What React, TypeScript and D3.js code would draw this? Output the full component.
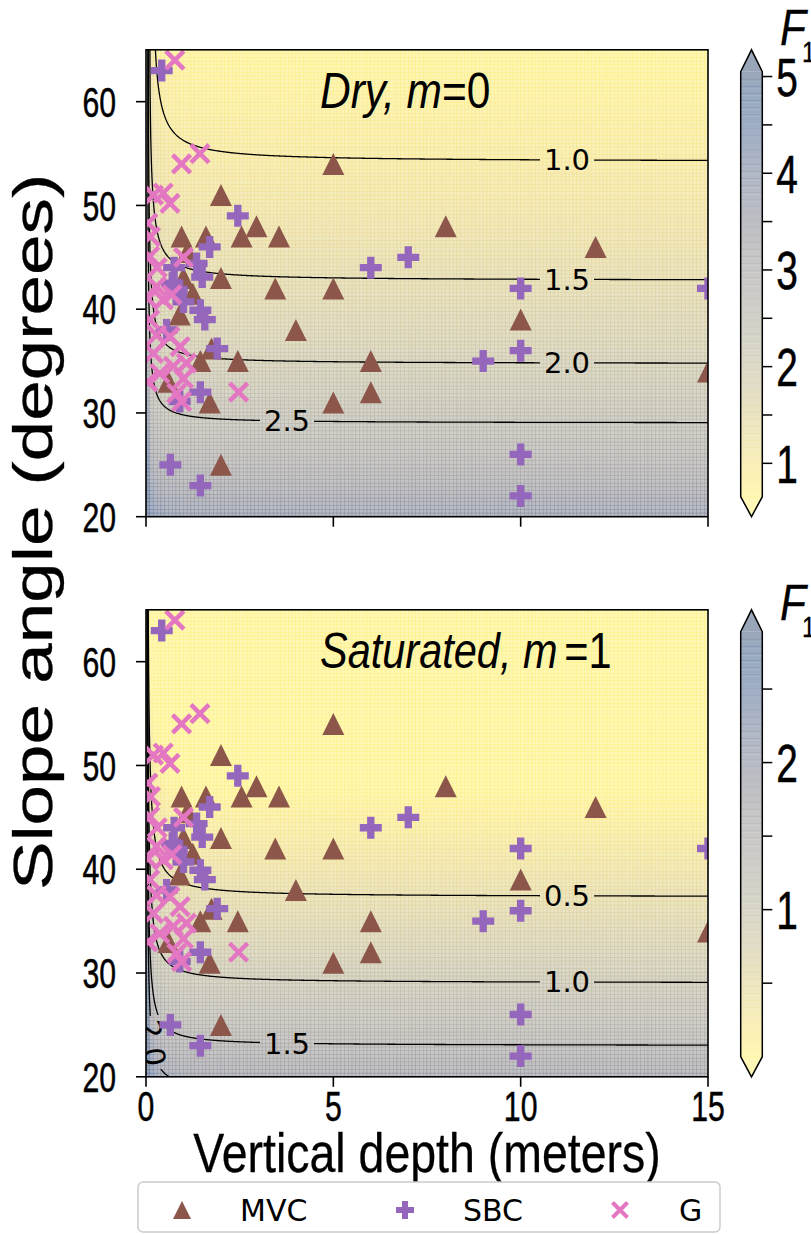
import React, { useMemo } from "react";
import * as d3 from "d3";

// ---------------- data (vertical depth m, slope angle deg) ----------------
const mvcDepth = [5, 8, 12, 2, 0.95, 1.6, 2.55, 2.95, 3.55, 1.1, 2, 1.0, 3.45, 5, 0.9, 1.25, 4, 10, 1.75, 1.45, 2.45, 6, 15, 0.6, 1.7, 5, 6, 2];
const mvcSlope = [54, 48, 46, 51, 47, 47, 47, 48, 47, 45.5, 43, 43, 42, 42, 39.5, 41.5, 38, 39, 36.2, 35, 35, 35, 34, 33, 31, 31, 32, 25];

const sbcDepth = [0.42, 2.45, 1.7, 1.35, 1.5, 0.75, 0.7, 0.82, 1.0, 1.45, 1.57, 0.55, 1.9, 1.45, 0.9, 0.65, 1.45, 6, 7, 10, 15, 10, 9, 10, 10];
const sbcSlope = [63, 49, 46, 44.4, 43.1, 44, 42.5, 41.9, 40.7, 39.9, 39, 38, 36.2, 32, 31.1, 25, 23, 44, 45, 42, 42, 36, 35, 26, 22];

const gDepth = [0.77, 0.95, 1.44, 0.2, 0.46, 0.64, 0.05, 0.1, 1.0, 0.3, 0.28, 0.46, 0.69, 0.05, 0.28, 0.64, 0.91, 0.2, 0.73, 1.08, 0.37, 1.0, 0.82, 0.95, 2.47, 0.1, 0.12, 0.05];
const gSlope = [64, 54, 55, 51, 51.2, 50.2, 48.3, 45.1, 45, 44, 42.2, 40.9, 41.4, 41, 37.5, 37.35, 36.4, 35.75, 34.5, 34.8, 33.8, 33.3, 31.9, 31.1, 32, 39, 47, 33];

const xTicks = [0, 5, 10, 15];
const yTicks = [20, 30, 40, 50, 60];
const dryLevels = [1.0, 1.5, 2.0, 2.5];
const satLevels = [0.5, 1.0, 1.5, 2.0];
const dryCbarMajor = [1, 2, 3, 4, 5];
const dryCbarMinor = [1.5, 2.5, 3.5, 4.5];
const satCbarMajor = [1, 2];
const satCbarMinor = [0.5, 1.5, 2.5];
const legendNames = ["MVC", "SBC", "G"];

// infinite-slope factor-of-safety model parameters (background field)
const TAN_PHI = 1.387;
const COH = 0.034; // c / gamma (m)
const WATER_RATIO = 0.4586; // gamma_w / gamma

function fos(z: number, thDeg: number, m: number) {
  const t = (thDeg * Math.PI) / 180;
  const s = Math.sin(t), c = Math.cos(t);
  return COH / (z * s * c) + TAN_PHI * (c / s - (m * WATER_RATIO) / (s * c));
}

// ---------------- layout ----------------
const W = 811, H = 1235;
const PX0 = 146, PX1 = 708;
const SANS = "'Liberation Sans', Arial, sans-serif";
const DEJAVU = "'DejaVu Sans', sans-serif";
const ALPHA = 0.4;

const C_MVC = "#8c564b", C_SBC = "#9467bd", C_G = "#e377c2";

function blend(c: string, a: number) {
  const r = d3.rgb(c);
  return d3.rgb(255 + (r.r - 255) * a, 255 + (r.g - 255) * a, 255 + (r.b - 255) * a).formatHex();
}
function cmap(v: number, vmin: number, vmax: number, a = ALPHA) {
  const t = Math.max(0, Math.min(1, (v - vmin) / (vmax - vmin)));
  return blend(d3.interpolateCividis(1 - t), a);
}

const triPath = (s: number) => `M0,${-s / 2}L${s / 2},${s / 2}L${-s / 2},${s / 2}Z`;
const plusPath = (s: number) => {
  const u = s / 6;
  const pts = [[-1, -3], [1, -3], [1, -1], [3, -1], [3, 1], [1, 1], [1, 3], [-1, 3], [-1, 1], [-3, 1], [-3, -1], [-1, -1]];
  return "M" + pts.map((p) => `${p[0] * u},${p[1] * u}`).join("L") + "Z";
};
const xPath = (s: number) => `M${-s / 2},${-s / 2}L${s / 2},${s / 2}M${-s / 2},${s / 2}L${s / 2},${-s / 2}`;

// condensed text: Liberation Sans squeezed horizontally
function NText(props: { x: number; y: number; size: number; sx?: number; anchor?: string; italic?: boolean; rotate?: number; dy?: string; bold?: number; children: React.ReactNode }) {
  const { x, y, size, sx = 0.74, anchor = "start", italic = false, rotate = 0, dy, bold = 0.5, children } = props;
  return (
    <text transform={`translate(${x},${y}) rotate(${rotate}) scale(${sx},1)`} textAnchor={anchor} dy={dy}
      fontFamily={SANS} fontSize={size} fontStyle={italic ? "italic" : "normal"} fill="#000"
      stroke="#000" strokeWidth={bold}>{children}</text>
  );
}

type PanelSpec = {
  id: string;
  top: number;
  bottom: number;
  m: number;
  levels: number[];
  vmin: number;
  vmax: number;
  cbTop: number;
  cbBottom: number;
  cbMajor: number[];
  cbMinor: number[];
  labels: { level: number; px?: number; py?: number }[];
  title: [string, string];
  titleSx: number;
  titleGap: number;
  showX: boolean;
  fY: number;
};

const panels: PanelSpec[] = [
  {
    id: "dry", top: 49.8, bottom: 516.7, m: 0, levels: dryLevels, vmin: 0.655, vmax: 5.05,
    cbTop: 71.7, cbBottom: 496.7, cbMajor: dryCbarMajor, cbMinor: dryCbarMinor,
    labels: [{ level: 1.0, px: 567 }, { level: 1.5, px: 567 }, { level: 2.0, px: 567 }, { level: 2.5, px: 287 }],
    title: ["Dry, m", "=0"], titleSx: 0.85, titleGap: 0, showX: false, fY: 45,
  },
  {
    id: "sat", top: 609.8, bottom: 1076.8, m: 1, levels: satLevels, vmin: 0.0, vmax: 2.89,
    cbTop: 631.7, cbBottom: 1056.7, cbMajor: satCbarMajor, cbMinor: satCbarMinor,
    labels: [{ level: 0.5, px: 567 }, { level: 1.0, px: 567 }, { level: 1.5, px: 287 }, { level: 2.0, py: 1043 }],
    title: ["Saturated, m", "=1"], titleSx: 0.83, titleGap: 8, showX: true, fY: 620,
  },
];

function Panel({ p }: { p: PanelSpec }) {
  const x = d3.scaleLinear().domain([0, 15]).range([PX0, PX1]);
  const y = d3.scaleLinear().domain([20, 65]).range([p.bottom, p.top]);

  const mesh = useMemo(() => {
    const NX = 150, NY = 125, dz = 0.1, dth = 0.36;
    const out: JSX.Element[] = [];
    for (let i = 0; i < NX; i++) {
      const z0 = i * dz, z1 = z0 + dz;
      const x0 = x(z0), w = x(z1) - x0;
      for (let j = 0; j < NY; j++) {
        const t0 = 20 + j * dth, t1 = t0 + dth;
        const v = fos((z0 + z1) / 2, (t0 + t1) / 2, p.m);
        const y0 = y(t1), h = y(t0) - y0;
        out.push(
          <rect key={i * 1000 + j} x={x0} y={y0} width={w} height={h}
            fill={cmap(v, p.vmin, p.vmax)} stroke={cmap(v, p.vmin, p.vmax, 0.66)} strokeWidth={0.5} />
        );
      }
    }
    return out;
  }, [p.id]);

  const contourPaths = useMemo(() => {
    const nx = 780, ny = 470, zA = -0.2, dz = 0.02, thA = 66, dth = 0.1;
    const values = new Float64Array(nx * ny);
    for (let j = 0; j < ny; j++) {
      const th = thA - (j + 0.5) * dth;
      for (let i = 0; i < nx; i++) {
        const z = zA + (i + 0.5) * dz;
        values[j * nx + i] = z <= 0 ? 1000 : fos(z, th, p.m);
      }
    }
    const gen = d3.contours().size([nx, ny]).thresholds(p.levels);
    const proj = d3.geoTransform({
      point(px: number, py: number) {
        // @ts-ignore
        this.stream.point(x(zA + px * dz), y(thA - py * dth));
      },
    });
    const path = d3.geoPath(proj as any);
    return gen(Array.from(values)).map((c) => path(c as any) || "");
  }, [p.id]);

  const labelInfo = p.labels.map((l) => {
    if (l.px !== undefined) {
      const z = x.invert(l.px);
      let lo = 20, hi = 65;
      for (let k = 0; k < 60; k++) {
        const mid = (lo + hi) / 2;
        if (fos(z, mid, p.m) > l.level) lo = mid; else hi = mid;
      }
      return { level: l.level, cx: l.px, cy: y((lo + hi) / 2), angle: 0 };
    }
    const th = y.invert(l.py as number);
    let lo = 0.005, hi = 5;
    for (let k = 0; k < 60; k++) {
      const mid = (lo + hi) / 2;
      if (fos(mid, th, p.m) > l.level) lo = mid; else hi = mid;
    }
    const cx = x((lo + hi) / 2), cy = l.py as number;
    const f = (px: number, py: number) => fos(x.invert(px), y.invert(py), p.m);
    const hh = 0.5;
    const gx = (f(cx + hh, cy) - f(cx - hh, cy)) / (2 * hh);
    const gy = (f(cx, cy + hh) - f(cx, cy - hh)) / (2 * hh);
    let ang = (Math.atan2(gx, -gy) * 180) / Math.PI;
    if (ang > 90) ang -= 180;
    if (ang < -90) ang += 180;
    return { level: l.level, cx, cy, angle: ang };
  });

  const LFS = 29;
  const cb = d3.scaleLinear().domain([p.vmin, p.vmax]).range([p.cbBottom, p.cbTop]);
  const CBX0 = 740.7, CBX1 = 762.3;
  const stripes: JSX.Element[] = [];
  const NS = 180;
  for (let k = 0; k < NS; k++) {
    const v0 = p.vmin + ((p.vmax - p.vmin) * k) / NS;
    const v1 = p.vmin + ((p.vmax - p.vmin) * (k + 1)) / NS;
    const c = cmap((v0 + v1) / 2, p.vmin, p.vmax);
    stripes.push(<rect key={k} x={CBX0} y={cb(v1)} width={CBX1 - CBX0} height={cb(v0) - cb(v1) + 0.3} fill={c}
      stroke={k % 3 === 0 ? cmap((v0 + v1) / 2, p.vmin, p.vmax, 0.55) : "none"} strokeWidth={0.4} />);
  }
  const tipTop = p.top, tipBot = p.bottom;
  const cbMid = (CBX0 + CBX1) / 2;
  const outline = `M${CBX0},${p.cbBottom}L${CBX0},${p.cbTop}L${cbMid},${tipTop}L${CBX1},${p.cbTop}L${CBX1},${p.cbBottom}L${cbMid},${tipBot}Z`;

  return (
    <g>
      <defs>
        <clipPath id={`clip-${p.id}`}>
          <rect x={PX0} y={p.top} width={PX1 - PX0} height={p.bottom - p.top} />
        </clipPath>
        <mask id={`mask-${p.id}`} maskUnits="userSpaceOnUse" x={0} y={0} width={W} height={H}>
          <rect x={0} y={0} width={W} height={H} fill="white" />
          {labelInfo.map((l, i) => {
            const tw = LFS * 1.59;
            return (
              <rect key={i} x={-tw / 2 - 4} y={-LFS * 0.45} width={tw + 8} height={LFS * 0.9} fill="black"
                transform={`translate(${l.cx},${l.cy}) rotate(${l.angle})`} />
            );
          })}
        </mask>
      </defs>
      <g clipPath={`url(#clip-${p.id})`}>
        <g>{mesh}</g>
        <g mask={`url(#mask-${p.id})`}>
          {contourPaths.map((d, i) => (
            <path key={i} d={d} fill="none" stroke="#000" strokeWidth={1.3} />
          ))}
        </g>
        {labelInfo.map((l, i) => (
          <text key={i} transform={`translate(${l.cx},${l.cy}) rotate(${l.angle})`} textAnchor="middle" dy="0.36em"
            fontFamily={DEJAVU} fontSize={LFS} fill="#000">{l.level.toFixed(1)}</text>
        ))}
        {mvcDepth.map((d, i) => (
          <path key={"m" + i} d={triPath(22)} transform={`translate(${x(d)},${y(mvcSlope[i])})`} fill={C_MVC} />
        ))}
        {sbcDepth.map((d, i) => (
          <path key={"s" + i} d={plusPath(22)} transform={`translate(${x(d)},${y(sbcSlope[i])})`} fill={C_SBC} />
        ))}
        {gDepth.map((d, i) => (
          <path key={"g" + i} d={xPath(18)} transform={`translate(${x(d)},${y(gSlope[i])})`} fill="none" stroke={C_G} strokeWidth={4.5} />
        ))}
      </g>
      <text transform={`translate(320,${p.top + 58}) scale(${p.titleSx},1)`} fontFamily={SANS} fontSize={50} fill="#000">
        <tspan fontStyle="italic">{p.title[0]}</tspan>
        <tspan dx={p.titleGap}>{p.title[1]}</tspan>
      </text>
      <rect x={PX0} y={p.top} width={PX1 - PX0} height={p.bottom - p.top} fill="none" stroke="#000" strokeWidth={1.6} />
      {yTicks.map((t) => (
        <g key={t}>
          <line x1={PX0 - 10} x2={PX0} y1={y(t)} y2={y(t)} stroke="#000" strokeWidth={1.6} />
          <NText x={116} y={y(t)} size={42} sx={0.72} anchor="end" dy="0.36em">{t}</NText>
        </g>
      ))}
      {xTicks.map((t) => (
        <g key={t}>
          <line x1={x(t)} x2={x(t)} y1={p.bottom} y2={p.bottom + 10} stroke="#000" strokeWidth={1.6} />
          {p.showX && (
            <NText x={x(t)} y={p.bottom + 44} size={42} sx={0.72} anchor="middle">{t}</NText>
          )}
        </g>
      ))}
      {/* colorbar */}
      <path d={`M${CBX0},${p.cbTop}L${cbMid},${tipTop}L${CBX1},${p.cbTop}Z`} fill={cmap(p.vmax + 1, p.vmin, p.vmax)} />
      <path d={`M${CBX0},${p.cbBottom}L${cbMid},${tipBot}L${CBX1},${p.cbBottom}Z`} fill={cmap(p.vmin - 1, p.vmin, p.vmax)} />
      <g>{stripes}</g>
      <path d={outline} fill="none" stroke="#000" strokeWidth={1.5} />
      {p.cbMajor.map((t) => (
        <g key={t}>
          <line x1={CBX1} x2={CBX1 + 10} y1={cb(t)} y2={cb(t)} stroke="#000" strokeWidth={1.5} />
          <NText x={CBX1 + 14} y={cb(t)} size={54} sx={0.72} dy="0.36em">{t}</NText>
        </g>
      ))}
      {p.cbMinor.map((t) => (
        <line key={t} x1={CBX1} x2={CBX1 + 10} y1={cb(t)} y2={cb(t)} stroke="#000" strokeWidth={1.5} />
      ))}
      <NText x={780} y={p.fY} size={50} sx={0.85} italic bold={0.3}>F</NText>
      <NText x={802} y={p.fY + 17} size={30} sx={0.8} bold={0.3}>1</NText>
    </g>
  );
}

export default function App() {
  const legendX = [182, 405, 620];
  const legendTextX = [240, 463, 679];
  return (
    <svg width={W} height={H} viewBox={`0 0 ${W} ${H}`} style={{ position: "absolute", left: 0, top: 0, background: "#fff" }}>
      <rect x={0} y={0} width={W} height={H} fill="#fff" />
      {panels.map((p) => (
        <Panel key={p.id} p={p} />
      ))}
      <NText x={52} y={532} size={56} sx={1.3} rotate={-90} anchor="middle" bold={0.3}>Slope angle (degrees)</NText>
      <NText x={427} y={1172} size={56} sx={0.83} anchor="middle" bold={0.3}>Vertical depth (meters)</NText>
      <rect x={138} y={1182} width={582} height={50} rx={5} fill="#fff" stroke="#cccccc" strokeWidth={1.5} />
      <path d={triPath(18)} transform={`translate(${legendX[0]},1210)`} fill={C_MVC} />
      <path d={plusPath(18)} transform={`translate(${legendX[1]},1210)`} fill={C_SBC} />
      <path d={xPath(15)} transform={`translate(${legendX[2]},1210)`} fill="none" stroke={C_G} strokeWidth={4} />
      {legendNames.map((n, i) => (
        <text key={n} x={legendTextX[i]} y={1221} fontFamily={DEJAVU} fontSize={30} fill="#000">{n}</text>
      ))}
    </svg>
  );
}
